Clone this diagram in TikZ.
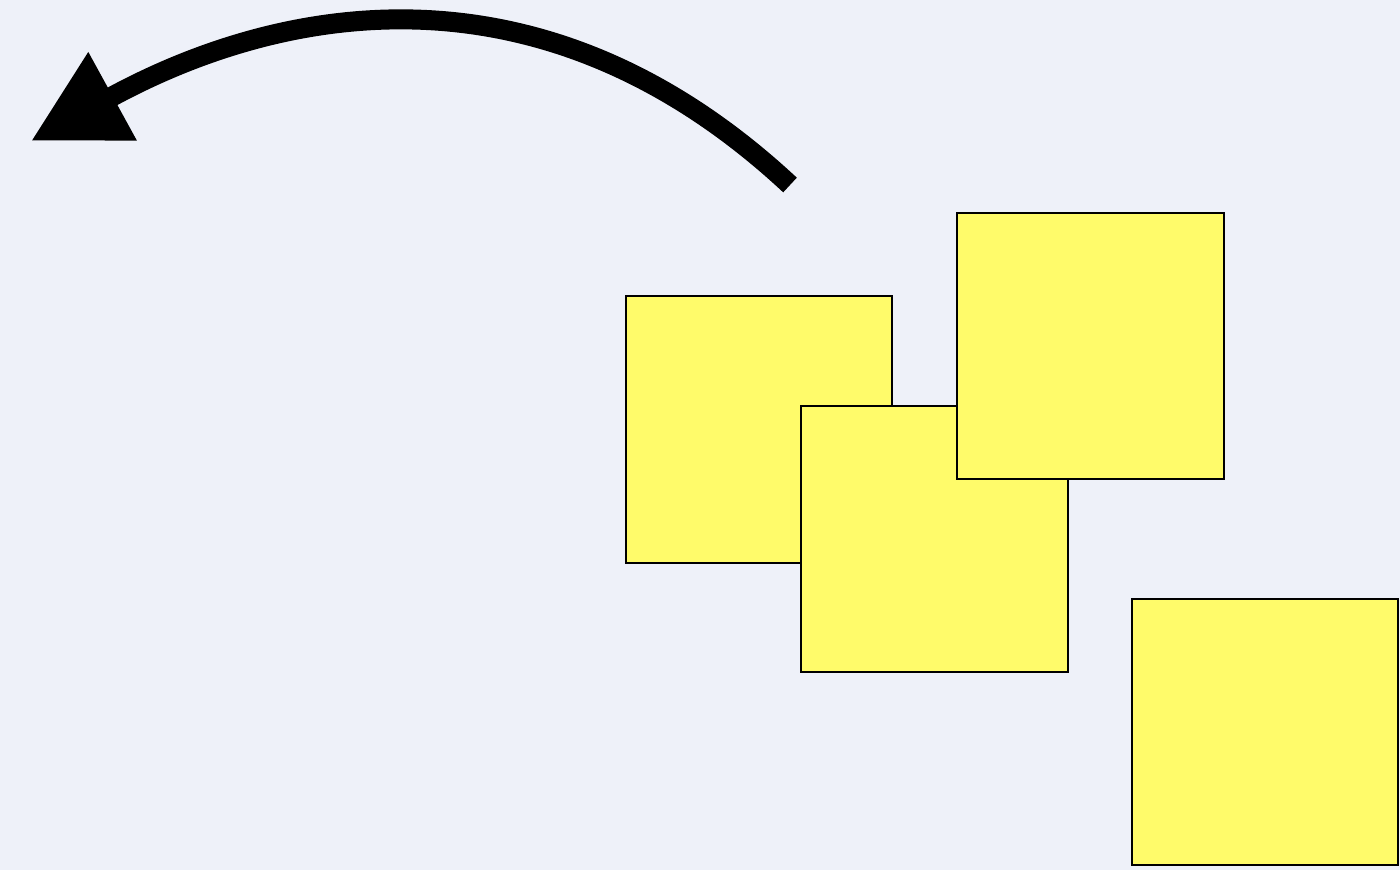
\documentclass[tikz,border=0pt]{standalone}
\usepackage{xcolor,tikz}
\usetikzlibrary{arrows.meta}
\definecolor{canvas}{HTML}{EEF1F9}
\definecolor{sticky}{HTML}{FFFB6A}

\begin{document}
\begin{tikzpicture}[
 x=0.01cm,y=-0.01cm,
 sq/.style={draw=black,fill=sticky,line width=0.02cm,minimum size=2.66cm,
 inner sep=0pt,outer sep=0pt},
 a/.style={-{Triangle[length=9.3mm,width=9.5mm]},line width=0.2cm,draw=black}]
 \fill[canvas] (0,0) rectangle (1400,870);
 \useasboundingbox (0,0) rectangle (1400,870);
 \node[sq] (p) at (759,429.5) {};
 \node[sq] (q) at (934.5,539) {};
 \node[sq] (r) at (1090.5,346) {};
 \node[sq] (s) at (1265,732) {};
 \coordinate (from) at (790,185);
 \coordinate (to) at (31,141);
 \draw[a] (from) .. controls (541,-47) and (279,5) .. (to);
\end{tikzpicture}
\end{document}
